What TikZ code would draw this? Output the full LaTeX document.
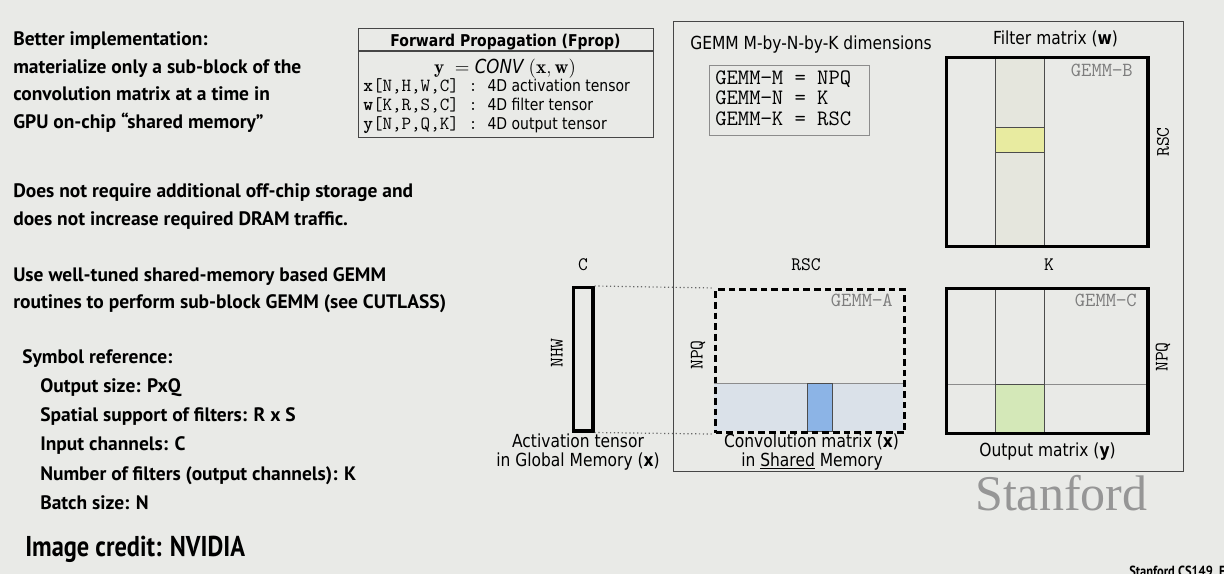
\documentclass[tikz,border=0pt]{standalone}
\usepackage{fontspec}
\usepackage{tikz}
\usetikzlibrary{positioning}
\usepackage{xcolor}

\newfontfamily\slidefont{PT Sans}
\newfontfamily\creditfont[FakeStretch=0.85]{PT Sans}
\newfontfamily\labelfont[FakeStretch=0.86]{DejaVu Sans}
\newcommand\codefont{\ttfamily}
\newfontfamily\logofont{Liberation Serif}

\definecolor{slidebg}{RGB}{233,234,231}
\definecolor{framegray}{RGB}{70,70,70}
\definecolor{colbeige}{RGB}{229,230,221}
\definecolor{tileyellow}{RGB}{232,235,160}
\definecolor{bandblue}{RGB}{218,225,233}
\definecolor{tileblue}{RGB}{140,180,230}
\definecolor{tilegreen}{RGB}{212,232,184}
\definecolor{taggray}{RGB}{125,125,125}
\definecolor{logogray}{RGB}{150,150,150}

\tikzset{
  slidetext/.style={anchor=base west, inner sep=0, text=black,
    font=\slidefont\bfseries\fontsize{14.6}{17}\selectfont},
  labeltext/.style={anchor=base, inner sep=0, font=\labelfont\fontsize{13.5}{16}\selectfont},
  fproptext/.style={anchor=base west, inner sep=0, font=\labelfont\fontsize{12.2}{14}\selectfont},
  dimtext/.style={anchor=base west, inner sep=0, font=\codefont\fontsize{16.5}{18}\selectfont},
  tagtext/.style={anchor=base east, inner sep=0, text=taggray, font=\codefont\fontsize{15}{17}\selectfont},
  axistext/.style={anchor=base, inner sep=0, font=\codefont\fontsize{14.3}{16}\selectfont},
  sidetext/.style={inner sep=0, rotate=90, font=\codefont\fontsize{14.3}{16}\selectfont},
  panel/.style={draw=framegray, line width=1.1pt, anchor=north west, inner sep=0},
  matbox/.style={draw=black, line width=2.3pt, anchor=north west, inner sep=0},
  gridline/.style={draw=black!70, line width=0.6pt},
  linkdots/.style={draw=black!60, dotted, line width=0.9pt},
}

\begin{document}
\begin{tikzpicture}[x=0.75pt,y=-0.75pt]
  % slide background
  \useasboundingbox[fill=slidebg] (0,0) rectangle (1224,574);

  % left column
  \foreach \yy/\txt [count=\i] in {
      45.7/Better implementation:,
      73.3/materialize only a sub-block of the,
      101/convolution matrix at a time in,
      128.3/GPU on-chip “shared memory”,
      197/Does not require additional off-chip storage and,
      225/does not increase required DRAM traffic.,
      281.5/Use well-tuned shared-memory based GEMM,
      308.5/routines to perform sub-block GEMM (see CUTLASS)
    } {
    \node[slidetext] (note\i) at (13,\yy) {\txt};
  }

  \node[slidetext] (symref) at (22,363) {Symbol reference:};
  \foreach \yy/\txt [count=\i] in {
      392.5/Output size: PxQ,
      421.5/Spatial support of filters: R x S,
      450.5/Input channels: C,
      480/Number of filters (output channels): K,
      509/Batch size: N
    } {
    \node[slidetext] (sym\i) at (40,\yy) {\txt};
  }
  \node[slidetext, font=\creditfont\bfseries\fontsize{21.5}{24}\selectfont] (credit) at (25,556.5) {Image credit: NVIDIA};

  % Fprop box
  \node[panel, minimum width=221.25pt, minimum height=81.75pt] (fprop) at (358,28) {};
  \draw[draw=framegray, line width=1.1pt] (358,51) -- (653,51);
  \node[fproptext, anchor=base, font=\labelfont\bfseries\fontsize{12.2}{14}\selectfont] (fprophead) at (505.5,46.5) {Forward Propagation (Fprop)};
  \node[fproptext, anchor=base, font=\labelfont\fontsize{14.5}{16}\selectfont] (fpropeq) at (505,73.3)
    {$\mathbf{y}\;=\;${\itshape CONV}$\;(\mathbf{x},\mathbf{w})$};
  \node[fproptext] (fpropx) at (363,91.7) {{\codefont\fontsize{13.9}{15}\selectfont\textbf{x}[N,H,W,C] : }4D activation tensor};
  \node[fproptext] (fpropw) at (363,110.7) {{\codefont\fontsize{13.9}{15}\selectfont\textbf{w}[K,R,S,C] : }4D filter tensor};
  \node[fproptext] (fpropy) at (363,130) {{\codefont\fontsize{13.9}{15}\selectfont\textbf{y}[N,P,Q,K] : }4D output tensor};

  % GEMM frame
  \node[panel, minimum width=382.5pt, minimum height=337.5pt] (gemmframe) at (673,21) {};
  \node[labeltext, anchor=base west] (dimtitle) at (690,50) {GEMM M-by-N-by-K dimensions};
  \node[panel, draw=black!45, line width=0.9pt, minimum width=120pt, minimum height=52.5pt] (dims) at (709,65) {};
  \node[dimtext] (dimm) at (715,85) {GEMM−M = NPQ};
  \node[dimtext] (dimn) at (715,105) {GEMM−N = K};
  \node[dimtext] (dimk) at (715,126) {GEMM−K = RSC};

  % Filter matrix (w)
  \node[labeltext] (filttitle) at (1055.5,45) {Filter matrix (\textbf{w})};
  \fill[colbeige] (995,56) rectangle (1044.5,245);
  \fill[tileyellow] (995,127.5) rectangle (1044.5,152.5);
  \draw[gridline] (995,127.5) -- (1044.5,127.5) (995,152.5) -- (1044.5,152.5);
  \draw[gridline] (995,56) -- (995,245) (1044.5,56) -- (1044.5,245);
  \node[matbox, minimum width=151.1pt, minimum height=141.75pt] (filt) at (945,56) {};
  \node[tagtext] (tagb) at (1133,76.7) {GEMM−B};
  \node[sidetext] (filtrsc) at (1163,142) {RSC};
  \node[axistext] (filtk) at (1049,270) {K};

  % Activation tensor in global memory
  \node[axistext] (actc) at (583,270) {C};
  \node[matbox, minimum width=14.6pt, minimum height=107.6pt] (act) at (572,286) {};
  \node[sidetext] (actnhw) at (557,353) {NHW};
  \node[labeltext] (actlab) at (578,447) {Activation tensor};
  \node[labeltext] (actlab2) at (578,466) {in Global Memory (\textbf{x})};

  % Convolution matrix in shared memory
  \node[axistext] (convrsc) at (806,270) {RSC};
  \fill[bandblue] (714,383.5) rectangle (903,431);
  \fill[tileblue] (807,383.5) rectangle (832,431);
  \draw[draw=black!45, line width=0.7pt] (714,383.5) -- (903,383.5);
  \draw[gridline] (807,383.5) rectangle (832,431);
  \node[matbox, dash pattern=on 5pt off 3pt, minimum width=141.75pt, minimum height=107.25pt] (conv) at (714,288) {};
  \node[tagtext] (taga) at (893,306) {GEMM−A};
  \node[sidetext] (convnpq) at (698,355) {NPQ};
  \node[labeltext] (convlab) at (811.5,447) {Convolution matrix (\textbf{x})};
  \node[labeltext] (convlab2) at (812,466) {in \underline{Shared} Memory};

  % dotted links
  \draw[linkdots] (act.north east) -- (conv.north west);
  \draw[linkdots] (act.south east) -- (conv.south west);

  % Output matrix (y)
  \fill[tilegreen] (995,384) rectangle (1044.5,431.5);
  \draw[gridline, draw=black!45] (945,384) -- (1146.5,384);
  \draw[gridline] (995,287) -- (995,431.5) (1044.5,287) -- (1044.5,431.5);
  \draw[gridline] (995,384) -- (1044.5,384);
  \node[matbox, minimum width=151.1pt, minimum height=108.4pt] (out) at (945,287) {};
  \node[tagtext] (tagc) at (1137,306.7) {GEMM−C};
  \node[sidetext] (outnpq) at (1163,357) {NPQ};
  \node[labeltext] (outlab) at (1047.5,456.7) {Output matrix (\textbf{y})};

  % logo and footer
  \node[anchor=base west, inner sep=0, text=logogray, font=\logofont\fontsize{37.5}{40}\selectfont] (logo) at (975,510) {Stanford};
  \node[slidetext, font=\creditfont\bfseries\fontsize{11}{12}\selectfont] (footer) at (1129,576) {Stanford CS149, F};
\end{tikzpicture}
\end{document}
